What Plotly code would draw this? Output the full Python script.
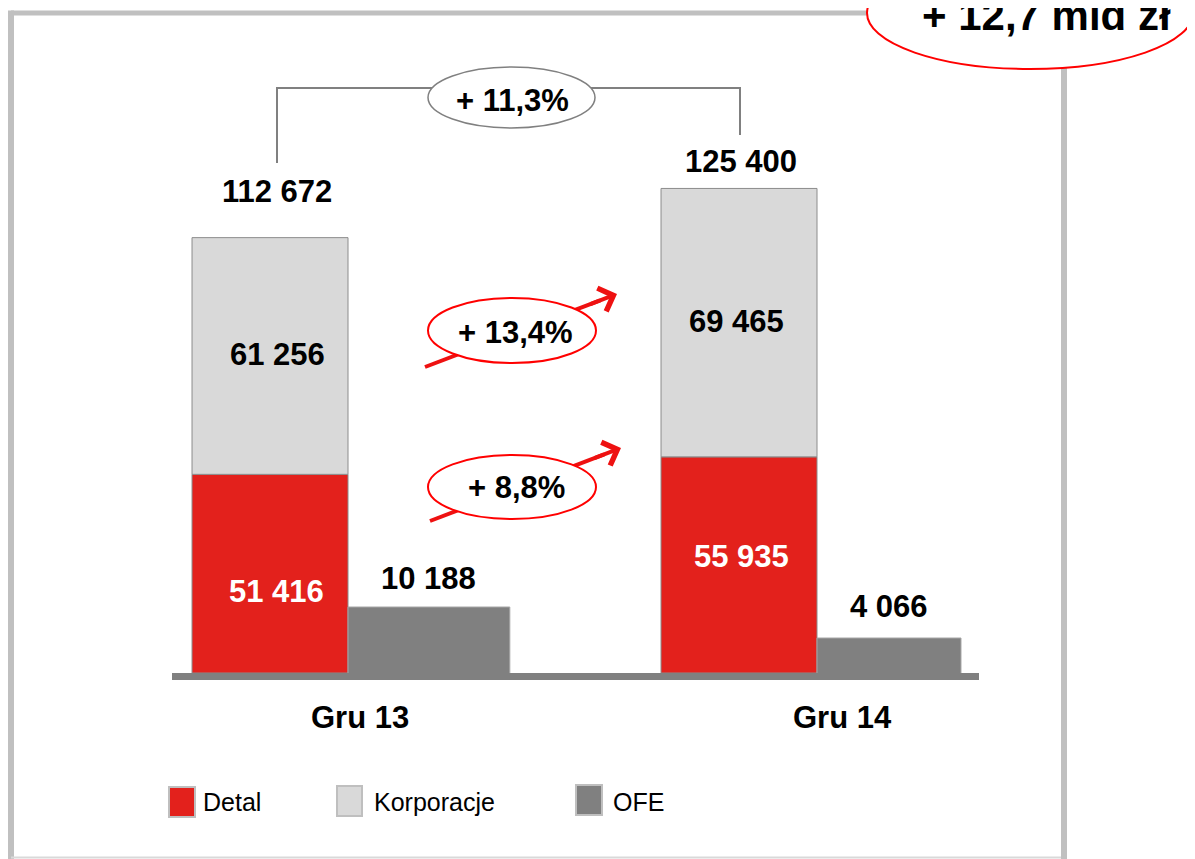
import math
import plotly.graph_objects as go

# ---------------- data ----------------
categories = ["Gru 13", "Gru 14"]
detal = [51416, 55935]
korporacje = [61256, 69465]
ofe = [10188, 4066]
series_names = ["Detal", "Korporacje", "OFE"]
growth_total = "+ 11,3%"
growth_korporacje = "+ 13,4%"
growth_detal = "+ 8,8%"
headline = "+ 12,7 mld zł"

totals = [d + k for d, k in zip(detal, korporacje)]


def fmt(v):
    return f"{v:,}".replace(",", " ")


# ---------------- styles ----------------
FONT = "Liberation Sans, Arial, sans-serif"
RED = "#E3211C"
LIGHT = "#D9D9D9"
DARK = "#808080"
FRAME = "#C0C0C0"
ARROW_RED = "#EE1111"
ELL_RED = "#FF0000"

OFF = 8  # default page margin around the figure
W, H = 1195 - OFF, 859 - OFF
PX0, PX1, PY0, PY1 = 172, 979, 60, 673  # plot area in page pixels


def xp(px):
    return (px - PX0) / (PX1 - PX0)


def yp(py):
    return (PY1 - py) / (PY1 - PY0)


STACK_W = 0.3326
OFE_W = [0.345, 0.307]
X_RANGE = [-0.3753, 1.3454]
Y_RANGE = [0, 158644]
Y2_RANGE = [3.1589, 11.046]  # log10 scale for OFE axis

fig = go.Figure()

fig.add_trace(go.Bar(
    x=categories, y=detal, name=series_names[0],
    width=[STACK_W] * 2, offset=-STACK_W,
    marker=dict(color=RED, line=dict(color="#8C8C8C", width=1)),
    showlegend=False, hoverinfo="skip",
))
fig.add_trace(go.Bar(
    x=categories, y=korporacje, base=detal, name=series_names[1],
    width=[STACK_W] * 2, offset=-STACK_W,
    marker=dict(color=LIGHT, line=dict(color="#8C8C8C", width=1)),
    showlegend=False, hoverinfo="skip",
))
fig.add_trace(go.Bar(
    x=categories, y=ofe, name=series_names[2], yaxis="y2",
    width=OFE_W, offset=0,
    marker=dict(color=DARK, line=dict(color="#A6A6A6", width=1)),
    showlegend=False, hoverinfo="skip",
))

annotations = []
bold = dict(family=FONT, size=31, color="black", weight="bold")
bold_white = dict(family=FONT, size=31, color="white", weight="bold")

# segment labels
for i in range(len(categories)):
    annotations.append(dict(
        x=i - STACK_W / 2, y=detal[i] / 2, xref="x", yref="y", text=fmt(detal[i]), showarrow=False,
        xanchor="center", yanchor="middle", xshift=[6, 2][i], yshift=[-18, 8][i], font=bold_white,
    ))
    annotations.append(dict(
        x=i - STACK_W / 2, y=detal[i] + korporacje[i] / 2, xref="x", yref="y", text=fmt(korporacje[i]),
        showarrow=False, xanchor="center", yanchor="middle", xshift=[7, -3][i], yshift=[1, 1][i], font=bold,
    ))
# totals above stacks
for i, t in enumerate(totals):
    annotations.append(dict(
        x=i - STACK_W / 2, y=t, xref="x", yref="y", text=fmt(t), showarrow=False,
        xanchor="center", yanchor="middle", yshift=[46, 27][i], xshift=[7, 2][i], font=bold,
    ))
# OFE labels above bars
for i, v in enumerate(ofe):
    annotations.append(dict(
        x=i + OFE_W[i] / 2, y=math.log10(v), xref="x", yref="y2", text=fmt(v), showarrow=False,
        xanchor="center", yanchor="middle", yshift=[29, 32][i], font=bold,
    ))
# category labels
for i, c in enumerate(categories):
    annotations.append(dict(
        x=i, y=yp(717), xref="x", yref="paper", text=c, showarrow=False,
        xanchor="center", yanchor="middle", xshift=[12, 25][i], font=bold,
    ))

shapes = []
# frame
shapes.append(dict(type="line", xref="paper", yref="paper", x0=xp(11), x1=xp(900), y0=yp(13), y1=yp(13),
                   line=dict(color=FRAME, width=5), layer="above"))
shapes.append(dict(type="line", xref="paper", yref="paper", x0=xp(11), x1=xp(11), y0=yp(10.5), y1=yp(870),
                   line=dict(color=FRAME, width=6), layer="above"))
shapes.append(dict(type="line", xref="paper", yref="paper", x0=xp(1064), x1=xp(1064), y0=yp(60), y1=yp(870),
                   line=dict(color=FRAME, width=6), layer="above"))
shapes.append(dict(type="line", xref="paper", yref="paper", x0=xp(11), x1=xp(1061), y0=yp(857.5), y1=yp(857.5),
                   line=dict(color="#D9D9D9", width=2), layer="above"))
# bracket
shapes.append(dict(type="path", xref="paper", yref="paper",
                   path=f"M{xp(277)},{yp(163)} L{xp(277)},{yp(88)} L{xp(740)},{yp(88)} L{xp(740)},{yp(135)}",
                   line=dict(color=DARK, width=2), layer="above"))
# red arrows (shafts)
arrows = [((425, 367), (617, 294)), ((430, 521), (621, 448))]
for (tx, ty), (hx, hy) in arrows:
    dx, dy = hx - tx, hy - ty
    L = math.hypot(dx, dy)
    ex, ey = hx - dx / L * 18, hy - dy / L * 18
    shapes.append(dict(type="line", xref="paper", yref="paper", x0=xp(tx), y0=yp(ty), x1=xp(ex), y1=yp(ey),
                       line=dict(color=ARROW_RED, width=4), layer="above"))
    annotations.append(dict(
        x=xp(hx), y=yp(hy), xref="paper", yref="paper", text="", showarrow=True,
        ax=-dx / L * 30, ay=-dy / L * 30, arrowhead=4, arrowsize=1.2, arrowwidth=4,
        arrowcolor=ARROW_RED, standoff=0,
    ))


def ellipse(x0, x1, y0, y1, color, width):
    return dict(type="circle", xref="paper", yref="paper", x0=xp(x0), x1=xp(x1), y0=yp(y1), y1=yp(y0),
                line=dict(color=color, width=width), fillcolor="white", layer="above")


shapes.append(ellipse(428, 595, 67, 128, DARK, 1.5))
shapes.append(ellipse(428, 596, 298, 363, ELL_RED, 2))
shapes.append(ellipse(428, 596, 455, 519, ELL_RED, 2))
shapes.append(ellipse(867, 1193, -43, 69, ELL_RED, 2))

for txt, (cx, cy) in [(growth_total, (512, 100)), (growth_korporacje, (515, 332)), (growth_detal, (516, 487))]:
    annotations.append(dict(x=xp(cx), y=yp(cy), xref="paper", yref="paper", text=txt, showarrow=False,
                            xanchor="center", yanchor="middle", font=bold))
annotations.append(dict(x=xp(1046), y=yp(15), xref="paper", yref="paper", text=headline, showarrow=False,
                        xanchor="center", yanchor="middle",
                        font=dict(family=FONT, size=42, color="black", weight="bold")))

# legend (custom, larger swatches)
legend_items = [
    (series_names[0], RED, (169, 195, 787, 817), 203),
    (series_names[1], LIGHT, (337, 362, 786, 816), 374),
    (series_names[2], DARK, (576, 602, 785, 815), 613),
]
for name, col, (x0, x1, y0, y1), tx in legend_items:
    shapes.append(dict(type="rect", xref="paper", yref="paper", x0=xp(x0), x1=xp(x1), y0=yp(y1), y1=yp(y0),
                       fillcolor=col, line=dict(color="#BFBFBF", width=2), layer="above"))
    annotations.append(dict(x=xp(tx) - 2 / (PX1 - PX0), y=yp(802), xref="paper", yref="paper", text=name,
                            showarrow=False, xanchor="left", yanchor="middle",
                            font=dict(family=FONT, size=25, color="black")))

fig.update_layout(
    width=W, height=H, autosize=False,
    margin=dict(l=PX0 - OFF, r=W - (PX1 - OFF), t=PY0 - OFF, b=H - (PY1 - OFF), pad=0),
    paper_bgcolor="white", plot_bgcolor="white",
    barmode="overlay",
    showlegend=False,
    xaxis=dict(range=X_RANGE, showgrid=False, zeroline=False, showticklabels=False, ticks="",
               showline=True, linecolor=DARK, linewidth=7),
    yaxis=dict(range=Y_RANGE, showgrid=False, zeroline=False, showticklabels=False, ticks="", showline=False),
    yaxis2=dict(type="log", range=Y2_RANGE, overlaying="y", side="right", showgrid=False, zeroline=False,
                showticklabels=False, ticks="", showline=False),
    shapes=shapes,
    annotations=annotations,
    font=dict(family=FONT),
)

fig.write_html("out.html")
